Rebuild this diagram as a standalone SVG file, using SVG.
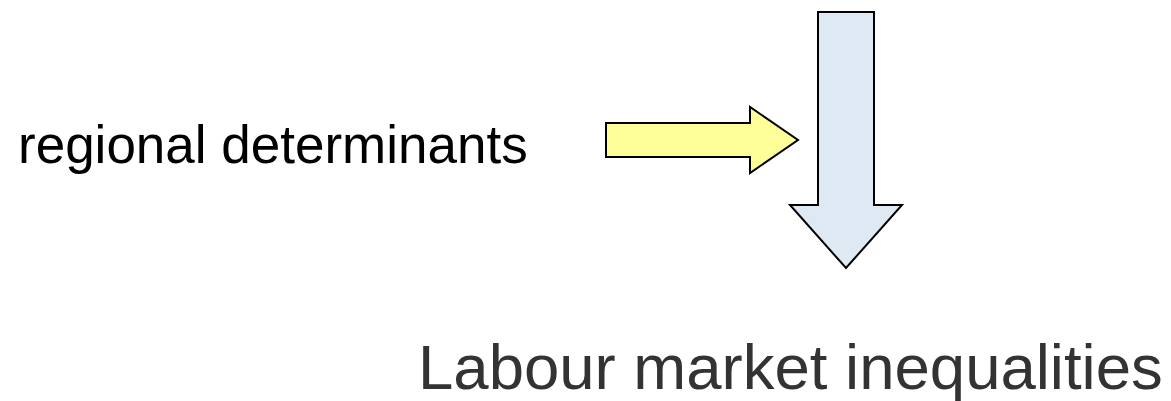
<svg xmlns="http://www.w3.org/2000/svg" width="1171" height="401" viewBox="0 0 1171 401">
<style>
.arrow{stroke:#000;stroke-width:2;stroke-linejoin:miter}
.lbl{font-family:"Liberation Sans",Arial,sans-serif}
</style>
<rect width="1171" height="401" fill="#fff"/>
<g id="regional-determinants">
<text class="lbl" x="18" y="163" font-size="53" fill="#000">regional determinants</text>
</g>
<g id="labour-market-inequalities">
<text class="lbl" x="418" y="389" font-size="63.5" fill="#333">Labour market inequalities</text>
</g>
<g id="connectors">
<polygon class="arrow" fill="#ffff99" points="606,123 750,123 750,107 798,140 750,173 750,157 606,157"/>
<polygon class="arrow" fill="#dfe9f4" points="818,12 874,12 874,205 902,205 846,268 790,205 818,205"/>
</g>
</svg>
